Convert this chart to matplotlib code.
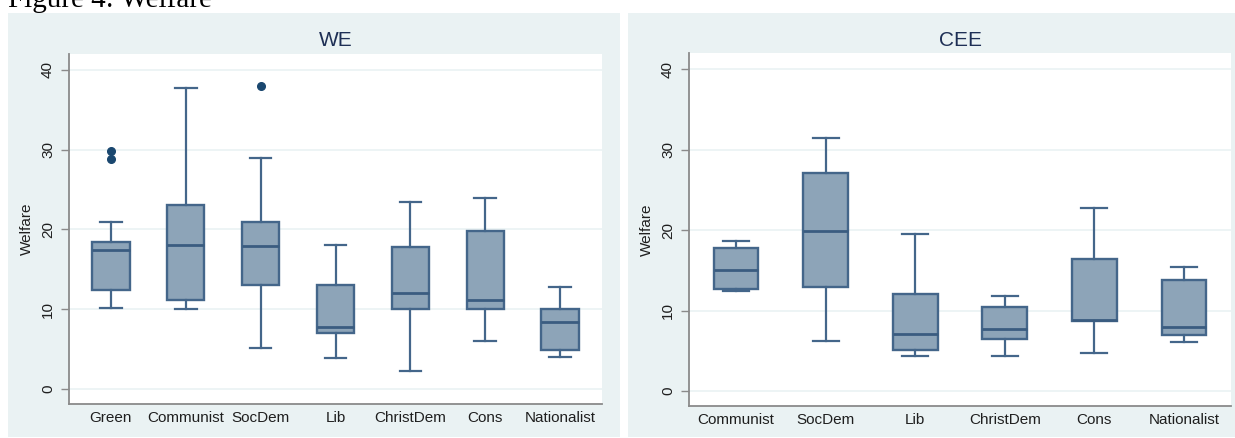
import matplotlib
matplotlib.use("Agg")
import matplotlib.pyplot as plt
from matplotlib.patches import Rectangle

# ---------------- data ----------------
we_parties = ["Green", "Communist", "SocDem", "Lib", "ChristDem", "Cons", "Nationalist"]
we_whislo = [10.2, 10.0, 5.1, 3.9, 2.3, 6.0, 4.05]
we_q1     = [12.4, 11.1, 13.0, 7.0, 10.0, 10.0, 4.9]
we_med    = [17.4, 18.0, 17.9, 7.8, 12.0, 11.2, 8.45]
we_q3     = [18.4, 23.1, 20.95, 13.0, 17.85, 19.85, 10.0]
we_whishi = [20.9, 37.8, 29.0, 18.0, 23.4, 23.95, 12.75]
we_fliers = [[29.8, 28.8], [], [38.0], [], [], [], []]

cee_parties = ["Communist", "SocDem", "Lib", "ChristDem", "Cons", "Nationalist"]
cee_whislo = [12.4, 6.25, 4.3, 4.3, 4.7, 6.15]
cee_q1     = [12.7, 12.95, 5.05, 6.5, 8.7, 6.95]
cee_med    = [15.0, 19.9, 7.1, 7.75, 8.8, 7.9]
cee_q3     = [17.75, 27.1, 12.0, 10.45, 16.4, 13.75]
cee_whishi = [18.7, 31.5, 19.45, 11.75, 22.8, 15.45]
cee_fliers = [[], [], [], [], [], []]

yticks = [0, 10, 20, 30, 40]

# ---------------- style ----------------
BG = "#EAF2F3"
FILL = "#8DA4B8"
EDGE = "#44668A"
MED = "#3A5C80"
DOT = "#1A476F"
TXT = "#1F1F1F"
TITLE_C = "#1E2F55"
AX_C = "#8A8A8A"
FONT = "Liberation Sans"

W, H = 1235, 438
fig = plt.figure(figsize=(W / 100, H / 100), dpi=100)
fig.patch.set_facecolor("white")


def px_rect(x0, y0, x1, y1):
    return [x0 / W, 1 - y1 / H, (x1 - x0) / W, (y1 - y0) / H]


# panel backgrounds
for (x0, x1) in [(8, 620), (628, 1235)]:
    r = px_rect(x0, 13, x1, 437)
    fig.add_artist(Rectangle((r[0], r[1]), r[2], r[3], transform=fig.transFigure,
                             facecolor=BG, edgecolor="none", zorder=-10))

fig.text(8 / W, 1 - 7 / H, "Figure 4: Welfare", family="Liberation Serif",
         fontsize=21, color="black", ha="left", va="baseline")


def panel(rect, title, parties, lo, q1, med, q3, hi, fl, xlim, ylim, title_y):
    ax = fig.add_axes(rect)
    ax.set_zorder(1)
    ax.set_facecolor("white")
    stats = []
    for i, p in enumerate(parties):
        stats.append(dict(label=p, whislo=lo[i], q1=q1[i], med=med[i], q3=q3[i],
                          whishi=hi[i], fliers=fl[i]))
    pos = list(range(len(parties)))
    ax.bxp(stats, positions=pos, widths=0.5, patch_artist=True, showfliers=True,
           boxprops=dict(facecolor=FILL, edgecolor=EDGE, linewidth=1.7),
           medianprops=dict(color=MED, linewidth=2.0),
           whiskerprops=dict(color=EDGE, linewidth=1.6),
           capprops=dict(color=EDGE, linewidth=1.6),
           capwidths=0.29,
           flierprops=dict(marker="o", markersize=5.5, markerfacecolor=DOT,
                           markeredgecolor=DOT, linestyle="none"),
           zorder=3)
    ax.set_xlim(*xlim)
    ax.set_ylim(*ylim)
    ax.set_yticks(yticks)
    ax.set_yticklabels([str(t) for t in yticks], rotation=90, va="center",
                       family=FONT, fontsize=11, color=TXT)
    ax.set_xticks(pos)
    ax.set_xticklabels(parties, family=FONT, fontsize=11, color=TXT)
    ax.tick_params(axis="x", length=0, pad=5)
    ax.tick_params(axis="y", length=6, width=1, color=AX_C, pad=4)
    ax.grid(axis="y", color=BG, linewidth=1.2, zorder=0)
    ax.set_axisbelow(True)
    for s in ["top", "right"]:
        ax.spines[s].set_visible(False)
    for s in ["left", "bottom"]:
        ax.spines[s].set_color(AX_C)
        ax.spines[s].set_linewidth(1.3)
    ax.set_ylabel("Welfare", family=FONT, fontsize=11, color=TXT, labelpad=5)
    fig.text(rect[0] + rect[2] / 2, 1 - title_y / H, title, family=FONT,
             fontsize=15, color=TITLE_C, ha="center", va="center")
    return ax


panel(px_rect(69, 54, 602, 404), "WE", we_parties, we_whislo, we_q1, we_med,
      we_q3, we_whishi, we_fliers, (-0.56, 6.56), (-1.88, 42.0), 41)
panel(px_rect(689, 53, 1231, 406), "CEE", cee_parties, cee_whislo, cee_q1,
      cee_med, cee_q3, cee_whishi, cee_fliers, (-0.525, 5.525), (-1.86, 42.0), 40)

fig.savefig("out.png", dpi=100, facecolor="white")
